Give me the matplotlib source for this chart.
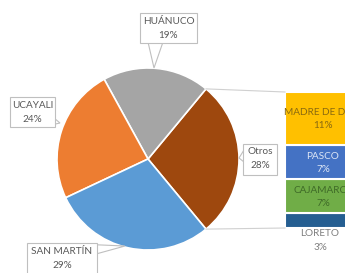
import numpy as np
import matplotlib.pyplot as plt
from matplotlib.patches import Rectangle, Polygon

# pie part
pie_labels = ['Otros', 'HUÁNUCO', 'UCAYALI', 'SAN MARTÍN']
pie_values = [28, 19, 24, 29]
pie_colors = ['#9E480E', '#A5A5A5', '#ED7D31', '#5B9BD5']

# bar part (breakdown of "Otros"), top to bottom
bar_labels = ['MADRE DE DIOS', 'PASCO', 'CAJAMARCA', 'LORETO']
bar_values = [11, 7, 7, 3]
bar_colors = ['#FFC000', '#4472C4', '#70AD47', '#255E91']
bar_text_colors = ['#8A6A10', '#DDE6F5', '#3F6B28', '#7F7F7F']

W, H = 345, 273
plt.rcParams['font.family'] = ['Lato', 'DejaVu Sans']
fig = plt.figure(figsize=(W / 100, H / 100), dpi=100)
ax = fig.add_axes([0, 0, 1, 1])

def yu(y):  # image y -> axes y
    return H - y

cx, cy, r = 148, yu(159), 91
start = -pie_values[0] * 3.6 / 2
ax.pie(pie_values, colors=pie_colors, startangle=start, counterclock=True,
       center=(cx, cy), radius=r,
       wedgeprops=dict(edgecolor='white', linewidth=1.2))

# stacked bar
scale = 136 / sum(bar_values)
bx, bw = 323, 76
bottom = yu(228)
for lab, v, c, tc in reversed(list(zip(bar_labels, bar_values, bar_colors, bar_text_colors))):
    h = v * scale
    ax.bar(bx, h, width=bw, bottom=bottom, color=c, edgecolor='white', linewidth=1.5)
    if lab == 'LORETO':
        ax.text(bx - 3, yu(234), lab, ha='center', va='center', fontsize=7.2, color='#7F7F7F')
        ax.text(bx - 3, yu(247), f'{v}%', ha='center', va='center', fontsize=7.2, color='#7F7F7F')
    else:
        mid = bottom + h / 2
        ax.text(bx, mid + 6, lab, ha='center', va='center', fontsize=7.2, color=tc)
        ax.text(bx, mid - 7, f'{v}%', ha='center', va='center', fontsize=7.2, color=tc)
    bottom += h
bar_top = bottom

# connector lines
t1 = np.radians(start + pie_values[0] * 3.6)
t0 = np.radians(start)
ax.plot([cx + r * np.cos(t1), bx - bw / 2], [cy + r * np.sin(t1), bar_top],
        color='#D0D0D0', lw=0.8)
ax.plot([cx + r * np.cos(t0), bx - bw / 2], [cy + r * np.sin(t0), yu(228)],
        color='#D0D0D0', lw=0.8)

# callout boxes: (x0, x1, y0, y1) in image px, pointer polygon
callouts = {
    'HUÁNUCO': ((140, 197, 13, 43), [(148, 42), (163, 42), (154, 68)]),
    'UCAYALI': ((10, 55, 97, 127), [(46, 126), (54, 118), (60, 123)]),
    'Otros': ((243, 277, 144, 175), [(244, 150), (244, 162), (239, 158)]),
    'SAN MARTÍN': ((27, 97, 243, 290), [(78, 244), (96, 254), (125, 246)]),
}
for lab, v in zip(pie_labels, pie_values):
    (x0, x1, y0, y1), ptr = callouts[lab]
    ax.add_patch(Polygon([(px, yu(py)) for px, py in ptr], closed=True,
                         fc='white', ec='#BFBFBF', lw=0.8, zorder=4))
    ax.add_patch(Rectangle((x0, yu(y1)), x1 - x0, y1 - y0, fc='white',
                           ec='#BFBFBF', lw=0.8, zorder=5))
    xm = (x0 + x1) / 2
    ax.text(xm, yu(y0 + 8), lab, ha='center', va='center', fontsize=7.2,
            color='#595959', zorder=6)
    ax.text(xm, yu(y0 + 22), f'{v}%', ha='center', va='center', fontsize=7.2,
            color='#595959', zorder=6)

ax.set_xlim(0, W)
ax.set_ylim(0, H)
ax.set_aspect('auto')
ax.axis('off')
fig.savefig('out.png', dpi=100)
